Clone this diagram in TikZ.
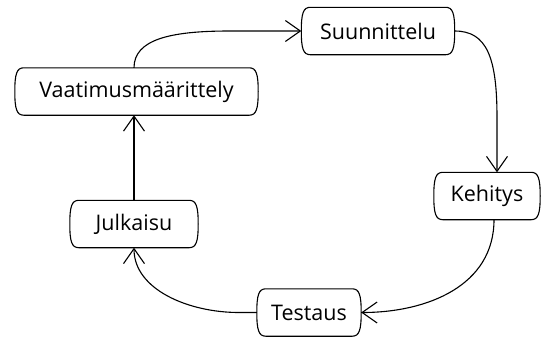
\documentclass[tikz,border=0pt]{standalone}
\usepackage{fontspec}
\setmainfont{Open Sans}
\usetikzlibrary{arrows.meta,calc}

% Outline of a stage box: straight top and bottom, bowed ends
\newcommand{\stagebox}[1]{%
  \draw[stageline]
    ($(#1.north west)+(9,0)$) -- ($(#1.north east)+(-9,0)$)
    .. controls ($(#1.north east)+(-2,0)$) and ($(#1.north east)+(0,6)$) .. (#1.east)
    .. controls ($(#1.south east)+(0,-6)$) and ($(#1.south east)+(-2,0)$) .. ($(#1.south east)+(-9,0)$)
    -- ($(#1.south west)+(9,0)$)
    .. controls ($(#1.south west)+(2,0)$) and ($(#1.south west)+(0,-6)$) .. (#1.west)
    .. controls ($(#1.north west)+(0,6)$) and ($(#1.north west)+(2,0)$) .. ($(#1.north west)+(9,0)$)
    -- cycle;}

\begin{document}
\begin{tikzpicture}[x=1pt,y=-1pt,
  stageline/.style={line width=1.1pt, black, line join=round},
  stage/.style={inner sep=0pt, minimum height=47pt, text=black,
    font=\fontsize{21.5}{25}\selectfont},
  flow/.style={line width=1.1pt, black,
    -{Straight Barb[length=15pt,width=21pt,line width=1.1pt]}}]
  \useasboundingbox (0,0) rectangle (547,338);

  \node[stage, minimum width=243pt] (V) at (136.5,91.5) {Vaatimusmäärittely};
  \node[stage, minimum width=153pt] (S) at (378,31) {Suunnittelu};
  \node[stage, minimum width=106pt] (K) at (487,196) {Kehitys};
  \node[stage, minimum width=128pt] (J) at (134,224) {Julkaisu};
  \node[stage, minimum width=104pt] (T) at (309,312.5) {Testaus};

  \foreach \n in {V,S,K,J,T} {\stagebox{\n}}

  % cycle of stages
  \draw[flow] (V.north -| J.north)
    .. controls +(0,-28) and +(-60,0) .. ($(S.west)+(-72,0)$) -- (S.west);
  \draw[flow] (S.east)
    .. controls +(32,0) and +(0,-60) .. ($(K.north)+(10,-55)$) -- ($(K.north)+(10,0)$);
  \draw[flow] ($(K.south)+(7,0)$)
    .. controls +(0,66) and +(66,0) .. (T.east);
  \draw[flow] (T.west) -- ($(T.west)+(-18,0)$)
    .. controls +(-50,0) and +(0,42) .. (J.south);
  \draw[flow] (J.north) -- (J.north |- V.south);
\end{tikzpicture}
\end{document}
